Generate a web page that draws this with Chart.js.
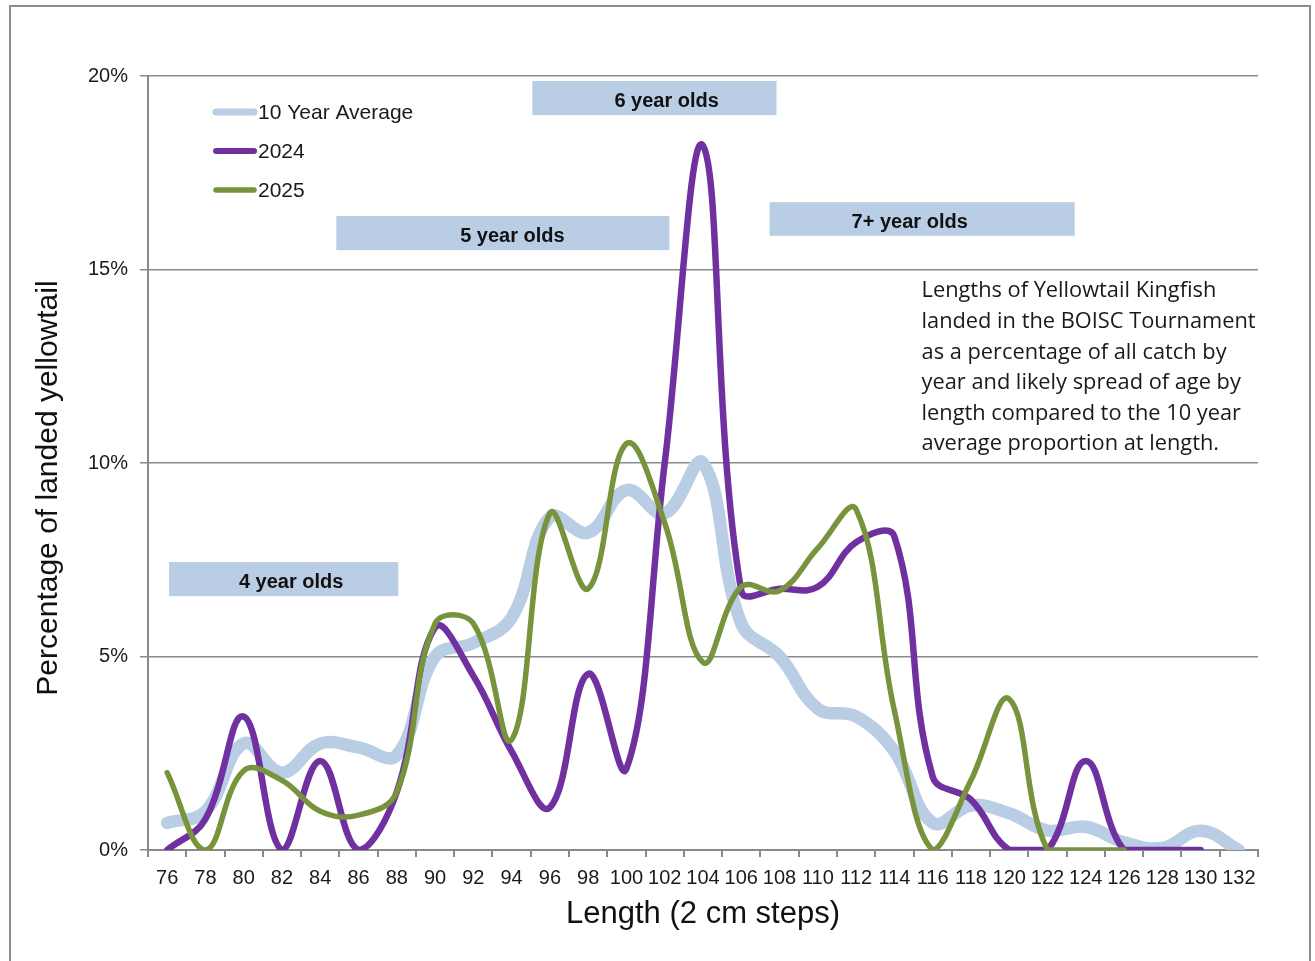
<!DOCTYPE html>
<html>
<head>
<meta charset="utf-8">
<title>Yellowtail Kingfish lengths</title>
<script src="https://cdn.jsdelivr.net/npm/chart.js@4.4.1/dist/chart.umd.min.js"></script>
<style>
  html, body { margin: 0; padding: 0; background: #fff; }
  #wrap { position: relative; width: 1315px; height: 961px; overflow: hidden; }
  #frame { position: absolute; left: 9px; top: 5px; width: 1302px; height: 1000px; border: 2px solid #8e8e8e; box-sizing: border-box; }
  #chart { position: absolute; left: 0; top: 0; }
</style>
</head>
<body>
<div id="wrap">
  <div id="frame"></div>
  <canvas id="chart" width="1315" height="961"></canvas>
</div>
<script>
// Length classes (2 cm steps)
const lengths = ['76', '78', '80', '82', '84', '86', '88', '90', '92', '94', '96', '98', '100', '102', '104',
                 '106', '108', '110', '112', '114', '116', '118', '120', '122', '124', '126', '128', '130', '132'];

// % of landed fish per length class
const avg10 = [0.7, 1.0, 2.75, 2.0, 2.75, 2.65, 2.45, 5.0, 5.35, 6.0, 8.6, 8.2, 9.3, 8.7, 10.0,
               5.85, 5.0, 3.65, 3.45, 2.55, 0.7, 1.15, 0.95, 0.5, 0.6, 0.2, 0.05, 0.5, 0.0];
const y2024 = [0, 0.8, 3.45, 0, 2.3, 0, 1.5, 5.75, 4.5, 2.55, 1.1, 4.55, 2.1, 10.0, 18.2,
               6.7, 6.75, 6.8, 7.95, 8.1, 1.9, 1.3, 0, 0, 2.3, 0, 0, 0, null];
const y2025 = [2.0, 0, 2.05, 1.8, 1.0, 0.9, 1.5, 5.85, 5.85, 2.85, 8.7, 6.75, 10.5, 8.45, 4.85,
               6.8, 6.7, 7.8, 8.8, 3.6, 0, 1.8, 3.9, 0, 0, 0, null, null, null];

const seriesNames = ['10 Year Average', '2024', '2025'];
const yTicks = [0, 5, 10, 15, 20];

// age bands: [label, from index, to index, text centre index, top %, bottom %]
const ageBands = [
    ['4 year olds', 0.05, 6.04, 3.24, 7.44, 6.56],
    ['5 year olds', 4.42, 13.12, 9.02, 16.38, 15.5],
    ['6 year olds', 9.54, 15.92, 13.05, 19.87, 18.99],
    ['7+ year olds', 15.74, 23.71, 19.4, 16.74, 15.87]
];

const noteLines = [
    'Lengths of Yellowtail Kingfish',
    'landed in the BOISC Tournament',
    'as a percentage of all catch by',
    'year and likely spread of age by',
    'length compared to the 10 year',
    'average proportion at length.'
];

const axisGrey = '#8a8a8a';
const arialFont = "'Liberation Sans', Arial, sans-serif";

// Blue boxes with age labels
const ageBandPlugin = {
    id: 'ageBands',
    beforeDatasetsDraw(chart) {
        const ctx = chart.ctx;
        const xs = chart.scales.x, ys = chart.scales.y;
        ctx.save();
        ageBands.forEach(function(b) {
            const x0 = xs.getPixelForValue(b[1]);
            const x1 = xs.getPixelForValue(b[2]);
            const yTop = ys.getPixelForValue(b[4]);
            const yBot = ys.getPixelForValue(b[5]);
            ctx.fillStyle = '#b9cde5';
            ctx.fillRect(x0, yTop, x1 - x0, yBot - yTop);
            ctx.fillStyle = '#111';
            ctx.font = 'bold 20px ' + arialFont;
            ctx.textAlign = 'center';
            ctx.textBaseline = 'middle';
            ctx.fillText(b[0], xs.getPixelForValue(b[3]), (yTop + yBot) / 2 + 3);
        });
        ctx.restore();
    }
};

// Legend inside the plot and the explanatory note
const legendNotePlugin = {
    id: 'legendNote',
    afterDraw(chart) {
        const ctx = chart.ctx;
        const area = chart.chartArea;
        ctx.save();
        chart.data.datasets.forEach(function(ds, i) {
            const y = area.top + 36 + i * 39;
            ctx.strokeStyle = ds.borderColor;
            ctx.lineWidth = [7, 6, 5.5][i];
            ctx.lineCap = 'round';
            ctx.beginPath();
            ctx.moveTo(area.left + 68, y);
            ctx.lineTo(area.left + 106, y);
            ctx.stroke();
            ctx.fillStyle = '#1a1a1a';
            ctx.font = '21px ' + arialFont;
            ctx.textAlign = 'left';
            ctx.textBaseline = 'middle';
            ctx.fillText(ds.label, area.left + 110, y + 1);
        });

        const xs = chart.scales.x, ys = chart.scales.y;
        ctx.font = "21.8px 'Open Sans', " + arialFont;
        ctx.fillStyle = '#1a1a1a';
        ctx.textAlign = 'left';
        ctx.textBaseline = 'middle';
        const nx = xs.getPixelForValue(19.71);
        const ny = ys.getPixelForValue(14.44);
        noteLines.forEach(function(t, i) {
            ctx.fillText(t, nx, ny + i * 30.6);
        });
        ctx.restore();
    }
};

document.addEventListener('DOMContentLoaded', function() {
    const canvas = document.getElementById('chart');
    const ctx = canvas.getContext('2d');

    const chartConfig = {
        type: 'line',
        data: {
            labels: lengths,
            datasets: [{
                label: seriesNames[0],
                data: avg10,
                borderColor: '#b9cde5',
                borderWidth: 12.5,
                order: 3
            }, {
                label: seriesNames[1],
                data: y2024,
                borderColor: '#7030a0',
                borderWidth: 6.5,
                order: 2
            }, {
                label: seriesNames[2],
                data: y2025,
                borderColor: '#77933c',
                borderWidth: 5.5,
                order: 1
            }]
        },
        options: {
            responsive: false,
            animation: false,
            devicePixelRatio: 1,
            layout: { padding: { top: 76, right: 57, left: 0, bottom: 0 } },
            elements: {
                line: { tension: 0.4, fill: false, borderCapStyle: 'round', borderJoinStyle: 'round' },
                point: { radius: 0, hoverRadius: 0 }
            },
            plugins: {
                legend: { display: false },
                tooltip: { enabled: false }
            },
            scales: {
                x: {
                    type: 'category',
                    offset: true,
                    afterFit: function(scale) { scale.height = 111; },
                    grid: { offset: true, drawOnChartArea: false, drawTicks: true, tickLength: 7, color: axisGrey, lineWidth: 2 },
                    border: { display: true, color: axisGrey, width: 2 },
                    ticks: {
                        autoSkip: false, maxRotation: 0, padding: 9, color: '#1a1a1a',
                        font: { family: arialFont, size: 20 }
                    },
                    title: {
                        display: true, text: 'Length (2 cm steps)', color: '#111',
                        font: { family: arialFont, size: 31 },
                        padding: { top: 0, bottom: 28 }
                    }
                },
                y: {
                    min: 0,
                    max: 20,
                    afterFit: function(scale) { scale.width = 148; },
                    afterBuildTicks: function(scale) {
                        scale.ticks = yTicks.map(function(v) { return { value: v }; });
                    },
                    grid: { color: axisGrey, lineWidth: 1.5, tickLength: 8 },
                    border: { display: true, color: axisGrey, width: 2 },
                    ticks: {
                        padding: 12, color: '#1a1a1a',
                        font: { family: arialFont, size: 20 },
                        callback: function(v) { return v + '%'; }
                    },
                    title: {
                        display: true, text: 'Percentage of landed yellowtail      ', color: '#111',
                        font: { family: arialFont, size: 30 },
                        padding: { top: 31, bottom: 0 }
                    }
                }
            }
        },
        plugins: [ageBandPlugin, legendNotePlugin]
    };

    new Chart(ctx, chartConfig);
});
</script>
</body>
</html>
